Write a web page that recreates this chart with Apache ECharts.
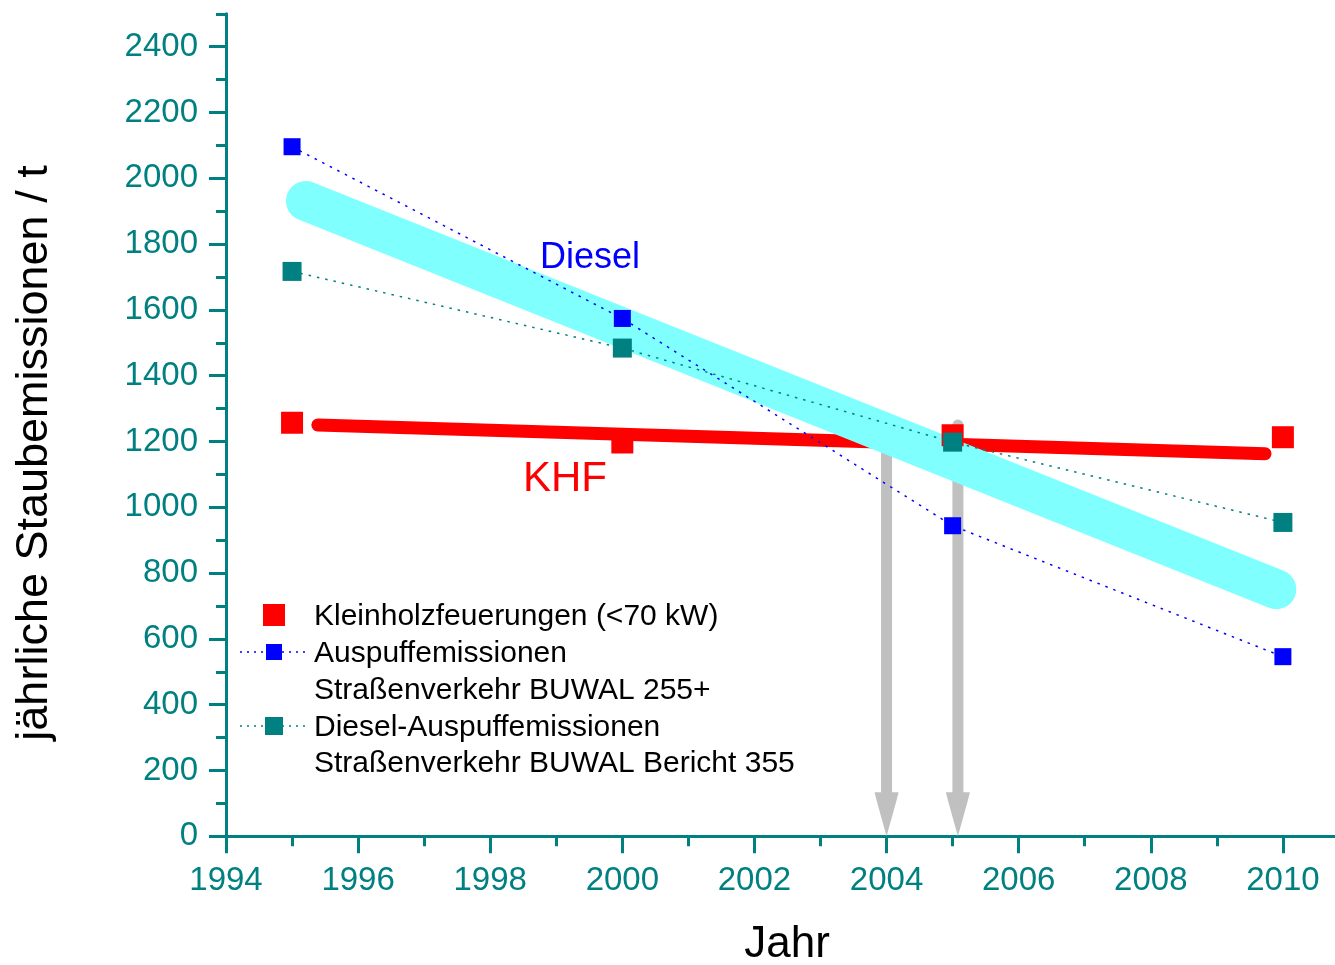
<!DOCTYPE html>
<html>
<head>
<meta charset="utf-8">
<script src="https://cdn.jsdelivr.net/npm/echarts@6/dist/echarts.min.js"></script>
<style>
  html, body { margin: 0; padding: 0; background: #ffffff; }
  #chart { width: 1335px; height: 965px; }
</style>
</head>
<body>
<div id="chart"></div>
<script>
// Annual dust emissions (t) for small wood firing vs. road-traffic exhaust
const years = [1995, 2000, 2005, 2010];
const kleinholz = [1257, 1197, 1219, 1213];
const auspuff255 = [2096, 1574, 944, 546];
const diesel355 = [1717, 1484, 1198, 954];

// Hand-drawn trend bands (start / end)
const khfTrendYears = [1995.39, 2009.73];
const khfTrendValues = [1250, 1163];
const dieselTrendYears = [1995.21, 2009.9];
const dieselTrendValues = [1931, 751];

// Vertical arrows pointing down to the year axis
const arrowYears = [2004.0, 2005.08];
const arrowTops = [1250, 1250];

// Axis ticks and labels
const xMajorTicks = [1994, 1996, 1998, 2000, 2002, 2004, 2006, 2008, 2010];
const yMajorTicks = [0, 200, 400, 600, 800, 1000, 1200, 1400, 1600, 1800, 2000, 2200, 2400];

const legendNames = [
  'Kleinholzfeuerungen (<70 kW)',
  'Auspuffemissionen',
  'Straßenverkehr BUWAL 255+',
  'Diesel-Auspuffemissionen',
  'Straßenverkehr BUWAL Bericht 355'
];
const yTitle = 'jährliche Staubemissionen / t';
const xTitle = 'Jahr';

const TEAL = '#008080';
const RED = '#ff0000';
const BLUE = '#0000ff';
const CYAN = '#80ffff';
const GREY = '#c0c0c0';
const FONT = '"Liberation Sans", Arial, Helvetica, sans-serif';

const pairs = (xs, ys) => xs.map((x, i) => [x, ys[i]]);

const chart = echarts.init(document.getElementById('chart'), null, { renderer: 'canvas' });

function legendRow(y, color, size, dotted) {
  const els = [];
  if (dotted) {
    els.push({
      type: 'line',
      shape: { x1: 240, y1: y, x2: 306, y2: y },
      style: { stroke: color, lineWidth: 1.5, lineDash: [2, 5] }
    });
  }
  els.push({
    type: 'rect',
    shape: { x: 274 - size / 2, y: y - size / 2, width: size, height: size },
    style: { fill: color }
  });
  return els;
}

function legendText(y, text) {
  return {
    type: 'text',
    x: 314, y: y + 2,
    style: { text: text, font: '30px ' + FONT, fill: '#000', align: 'left', verticalAlign: 'middle' }
  };
}

const option = {
  animation: false,
  backgroundColor: '#ffffff',
  textStyle: { fontFamily: FONT },
  tooltip: { show: false },
  grid: { left: 226, top: 13.8, width: 1189, height: 822.5, containLabel: false, outerBoundsMode: 'none' },
  xAxis: [
    {
      type: 'value', min: 1994, max: 2012, interval: 1,
      axisLine: { lineStyle: { color: TEAL, width: 3 } },
      axisTick: { length: 10, lineStyle: { color: TEAL, width: 3 } },
      axisLabel: { show: false },
      splitLine: { show: false }
    },
    {
      type: 'value', position: 'bottom', min: 1994, max: 2012, interval: 2,
      axisLine: { show: false },
      axisTick: { length: 17, customValues: xMajorTicks, lineStyle: { color: TEAL, width: 3 } },
      axisLabel: {
        customValues: xMajorTicks, color: TEAL, fontSize: 33, fontFamily: FONT, margin: 28,
        formatter: v => String(v)
      },
      splitLine: { show: false }
    }
  ],
  yAxis: [
    {
      type: 'value', min: 0, max: 2500, interval: 100,
      axisLine: { show: true, lineStyle: { color: TEAL, width: 3 } },
      axisTick: { show: true, length: 10, lineStyle: { color: TEAL, width: 3 } },
      axisLabel: { show: false },
      splitLine: { show: false }
    },
    {
      type: 'value', position: 'left', min: 0, max: 2500, interval: 100,
      axisLine: { show: false },
      axisTick: { show: true, length: 17, customValues: yMajorTicks, lineStyle: { color: TEAL, width: 3 } },
      axisLabel: {
        customValues: yMajorTicks, color: TEAL, fontSize: 33, fontFamily: FONT, margin: 28,
        formatter: v => String(v)
      },
      splitLine: { show: false }
    }
  ],
  series: [
    {
      name: 'arrows',
      type: 'custom',
      z: 1,
      silent: true,
      data: pairs(arrowYears, arrowTops),
      renderItem: function (params, api) {
        const top = api.coord([api.value(0), api.value(1)]);
        const tip = api.coord([api.value(0), 0]);
        const x = tip[0];
        return {
          type: 'group',
          children: [
            {
              type: 'line',
              shape: { x1: x, y1: top[1], x2: x, y2: tip[1] - 40 },
              style: { stroke: GREY, lineWidth: 11, lineCap: 'round' }
            },
            {
              type: 'polygon',
              shape: { points: [[x - 12, tip[1] - 44], [x + 12, tip[1] - 44], [x + 10, tip[1] - 36], [x, tip[1]], [x - 10, tip[1] - 36]] },
              style: { fill: GREY }
            }
          ]
        };
      }
    },
    {
      name: 'KHF trend',
      type: 'line',
      z: 2,
      silent: true,
      showSymbol: false,
      data: pairs(khfTrendYears, khfTrendValues),
      lineStyle: { color: RED, width: 13, cap: 'round' }
    },
    {
      name: 'Diesel trend',
      type: 'line',
      z: 3,
      silent: true,
      showSymbol: false,
      data: pairs(dieselTrendYears, dieselTrendValues),
      lineStyle: { color: CYAN, width: 40, cap: 'round' }
    },
    {
      name: legendNames[0],
      type: 'scatter',
      z: 4,
      silent: true,
      symbol: 'rect',
      symbolSize: 22,
      itemStyle: { color: RED, opacity: 1 },
      data: pairs(years, kleinholz)
    },
    {
      name: legendNames[1],
      type: 'line',
      z: 5,
      silent: true,
      symbol: 'rect',
      symbolSize: 17,
      showAllSymbol: true,
      itemStyle: { color: BLUE, borderWidth: 0 },
      lineStyle: { color: BLUE, width: 1.5, type: [2.5, 6] },
      data: pairs(years, auspuff255)
    },
    {
      name: legendNames[3],
      type: 'line',
      z: 6,
      silent: true,
      symbol: 'rect',
      symbolSize: 19,
      showAllSymbol: true,
      itemStyle: { color: TEAL, borderWidth: 0 },
      lineStyle: { color: TEAL, width: 1.5, type: [2.5, 6] },
      data: pairs(years, diesel355)
    }
  ],
  graphic: [
    {
      type: 'text', x: 35, y: 453, rotation: Math.PI / 2,
      style: { text: yTitle, font: '45px ' + FONT, fill: '#000', align: 'center', verticalAlign: 'middle' }
    },
    {
      type: 'text', x: 787, y: 945,
      style: { text: xTitle, font: '44px ' + FONT, fill: '#000', align: 'center', verticalAlign: 'middle' }
    },
    {
      type: 'text', x: 590, y: 258, z: 100,
      style: { text: 'Diesel', font: '36px ' + FONT, fill: BLUE, align: 'center', verticalAlign: 'middle' }
    },
    {
      type: 'text', x: 565, y: 479, z: 100,
      style: { text: 'KHF', font: '42px ' + FONT, fill: RED, align: 'center', verticalAlign: 'middle' }
    },
    {
      type: 'group', z: 100,
      children: [].concat(
        legendRow(615, RED, 22, false),
        legendRow(652, BLUE, 16, true),
        legendRow(726, TEAL, 18, true),
        [
          legendText(615, legendNames[0]),
          legendText(652, legendNames[1]),
          legendText(689, legendNames[2]),
          legendText(726, legendNames[3]),
          legendText(762, legendNames[4])
        ]
      )
    }
  ]
};

chart.setOption(option);
</script>
</body>
</html>
